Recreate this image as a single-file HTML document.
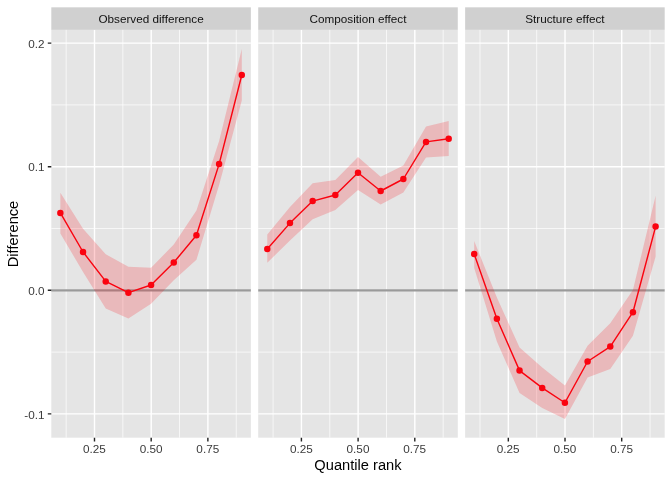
<!DOCTYPE html>
<html><head><meta charset="utf-8"><title>plot</title>
<style>html,body{margin:0;padding:0;background:#fff}svg{display:block;will-change:transform}text{font-family:"Liberation Sans",sans-serif}</style></head><body>
<svg width="672" height="480" viewBox="0 0 672 480">
<rect x="0" y="0" width="672" height="480" fill="#fff"/>
<rect x="51.30" y="7.33" width="199.56" height="22.57" fill="#D0D0D0"/>
<rect x="51.30" y="29.9" width="199.56" height="407.80" fill="#E5E5E5"/>
<path d="M51.30 104.90H250.86M51.30 228.50H250.86M51.30 352.10H250.86M66.16 29.9V437.7M122.85 29.9V437.7M179.55 29.9V437.7M236.24 29.9V437.7" stroke="#fff" stroke-width="0.71" fill="none"/>
<path d="M51.30 43.10H250.86M51.30 166.70H250.86M51.30 290.30H250.86M51.30 413.90H250.86M94.51 29.9V437.7M151.20 29.9V437.7M207.89 29.9V437.7" stroke="#fff" stroke-width="1.42" fill="none"/>
<path d="M51.30 290.3H250.86" stroke="#9A9A9A" stroke-width="2.15" fill="none"/>
<polygon points="60.37,192.75 83.05,228.75 105.73,254.30 128.40,266.70 151.08,267.80 173.76,244.50 196.43,210.60 219.11,141.00 241.79,49.10 241.79,100.60 219.11,185.00 196.43,259.80 173.76,280.30 151.08,303.70 128.40,318.60 105.73,308.40 83.05,272.00 60.37,233.50" fill="#FB0812" fill-opacity="0.2"/>
<polyline points="60.37,212.90 83.05,252.00 105.73,281.40 128.40,292.70 151.08,285.00 173.76,262.50 196.43,235.30 219.11,164.10 241.79,75.00" fill="none" stroke="#FA030F" stroke-width="1.42" stroke-linejoin="round"/>
<circle cx="60.37" cy="212.90" r="3.23" fill="#FA030F"/>
<circle cx="83.05" cy="252.00" r="3.23" fill="#FA030F"/>
<circle cx="105.73" cy="281.40" r="3.23" fill="#FA030F"/>
<circle cx="128.40" cy="292.70" r="3.23" fill="#FA030F"/>
<circle cx="151.08" cy="285.00" r="3.23" fill="#FA030F"/>
<circle cx="173.76" cy="262.50" r="3.23" fill="#FA030F"/>
<circle cx="196.43" cy="235.30" r="3.23" fill="#FA030F"/>
<circle cx="219.11" cy="164.10" r="3.23" fill="#FA030F"/>
<circle cx="241.79" cy="75.00" r="3.23" fill="#FA030F"/>
<text x="151.08" y="23.2" font-size="11.73" fill="#101010" text-anchor="middle">Observed difference</text>
<text x="94.39" y="452.9" font-size="11.73" fill="#3B3B3B" text-anchor="middle">0.25</text>
<text x="151.08" y="452.9" font-size="11.73" fill="#3B3B3B" text-anchor="middle">0.50</text>
<text x="207.77" y="452.9" font-size="11.73" fill="#3B3B3B" text-anchor="middle">0.75</text>
<path d="M94.49 437.7v3.9M151.18 437.7v3.9M207.87 437.7v3.9" stroke="#242424" stroke-width="1.42" fill="none"/>
<rect x="258.22" y="7.33" width="199.56" height="22.57" fill="#D0D0D0"/>
<rect x="258.22" y="29.9" width="199.56" height="407.80" fill="#E5E5E5"/>
<path d="M258.22 104.90H457.78M258.22 228.50H457.78M258.22 352.10H457.78M273.08 29.9V437.7M329.77 29.9V437.7M386.47 29.9V437.7M443.16 29.9V437.7" stroke="#fff" stroke-width="0.71" fill="none"/>
<path d="M258.22 43.10H457.78M258.22 166.70H457.78M258.22 290.30H457.78M258.22 413.90H457.78M301.43 29.9V437.7M358.12 29.9V437.7M414.81 29.9V437.7" stroke="#fff" stroke-width="1.42" fill="none"/>
<path d="M258.22 290.3H457.78" stroke="#9A9A9A" stroke-width="2.15" fill="none"/>
<polygon points="267.29,234.40 289.97,206.90 312.65,183.20 335.32,179.90 358.00,156.90 380.68,176.70 403.35,165.60 426.03,126.60 448.71,121.00 448.71,156.00 426.03,157.50 403.35,192.50 380.68,204.60 358.00,190.00 335.32,209.90 312.65,219.20 289.97,240.50 267.29,262.75" fill="#FB0812" fill-opacity="0.2"/>
<polyline points="267.29,249.00 289.97,223.10 312.65,201.10 335.32,195.00 358.00,172.80 380.68,191.00 403.35,179.00 426.03,141.90 448.71,138.75" fill="none" stroke="#FA030F" stroke-width="1.42" stroke-linejoin="round"/>
<circle cx="267.29" cy="249.00" r="3.23" fill="#FA030F"/>
<circle cx="289.97" cy="223.10" r="3.23" fill="#FA030F"/>
<circle cx="312.65" cy="201.10" r="3.23" fill="#FA030F"/>
<circle cx="335.32" cy="195.00" r="3.23" fill="#FA030F"/>
<circle cx="358.00" cy="172.80" r="3.23" fill="#FA030F"/>
<circle cx="380.68" cy="191.00" r="3.23" fill="#FA030F"/>
<circle cx="403.35" cy="179.00" r="3.23" fill="#FA030F"/>
<circle cx="426.03" cy="141.90" r="3.23" fill="#FA030F"/>
<circle cx="448.71" cy="138.75" r="3.23" fill="#FA030F"/>
<text x="358.00" y="23.2" font-size="11.73" fill="#101010" text-anchor="middle">Composition effect</text>
<text x="301.31" y="452.9" font-size="11.73" fill="#3B3B3B" text-anchor="middle">0.25</text>
<text x="358.00" y="452.9" font-size="11.73" fill="#3B3B3B" text-anchor="middle">0.50</text>
<text x="414.69" y="452.9" font-size="11.73" fill="#3B3B3B" text-anchor="middle">0.75</text>
<path d="M301.41 437.7v3.9M358.10 437.7v3.9M414.79 437.7v3.9" stroke="#242424" stroke-width="1.42" fill="none"/>
<rect x="465.13" y="7.33" width="199.56" height="22.57" fill="#D0D0D0"/>
<rect x="465.13" y="29.9" width="199.56" height="407.80" fill="#E5E5E5"/>
<path d="M465.13 104.90H664.69M465.13 228.50H664.69M465.13 352.10H664.69M479.99 29.9V437.7M536.68 29.9V437.7M593.38 29.9V437.7M650.07 29.9V437.7" stroke="#fff" stroke-width="0.71" fill="none"/>
<path d="M465.13 43.10H664.69M465.13 166.70H664.69M465.13 290.30H664.69M465.13 413.90H664.69M508.34 29.9V437.7M565.03 29.9V437.7M621.72 29.9V437.7" stroke="#fff" stroke-width="1.42" fill="none"/>
<path d="M465.13 290.3H664.69" stroke="#9A9A9A" stroke-width="2.15" fill="none"/>
<polygon points="474.20,241.00 496.88,297.60 519.56,347.50 542.23,367.50 564.91,385.50 587.59,345.70 610.26,323.20 632.94,290.00 655.62,195.80 655.62,256.50 632.94,335.70 610.26,369.00 587.59,377.40 564.91,419.00 542.23,408.10 519.56,393.10 496.88,341.50 474.20,268.10" fill="#FB0812" fill-opacity="0.2"/>
<polyline points="474.20,254.10 496.88,318.75 519.56,370.60 542.23,387.90 564.91,402.75 587.59,361.50 610.26,346.60 632.94,312.20 655.62,226.60" fill="none" stroke="#FA030F" stroke-width="1.42" stroke-linejoin="round"/>
<circle cx="474.20" cy="254.10" r="3.23" fill="#FA030F"/>
<circle cx="496.88" cy="318.75" r="3.23" fill="#FA030F"/>
<circle cx="519.56" cy="370.60" r="3.23" fill="#FA030F"/>
<circle cx="542.23" cy="387.90" r="3.23" fill="#FA030F"/>
<circle cx="564.91" cy="402.75" r="3.23" fill="#FA030F"/>
<circle cx="587.59" cy="361.50" r="3.23" fill="#FA030F"/>
<circle cx="610.26" cy="346.60" r="3.23" fill="#FA030F"/>
<circle cx="632.94" cy="312.20" r="3.23" fill="#FA030F"/>
<circle cx="655.62" cy="226.60" r="3.23" fill="#FA030F"/>
<text x="564.91" y="23.2" font-size="11.73" fill="#101010" text-anchor="middle">Structure effect</text>
<text x="508.22" y="452.9" font-size="11.73" fill="#3B3B3B" text-anchor="middle">0.25</text>
<text x="564.91" y="452.9" font-size="11.73" fill="#3B3B3B" text-anchor="middle">0.50</text>
<text x="621.60" y="452.9" font-size="11.73" fill="#3B3B3B" text-anchor="middle">0.75</text>
<path d="M508.32 437.7v3.9M565.01 437.7v3.9M621.70 437.7v3.9" stroke="#242424" stroke-width="1.42" fill="none"/>
<text x="44.5" y="48.00" font-size="11.73" fill="#3B3B3B" text-anchor="end">0.2</text>
<text x="44.5" y="171.00" font-size="11.73" fill="#3B3B3B" text-anchor="end">0.1</text>
<text x="44.5" y="294.50" font-size="11.73" fill="#3B3B3B" text-anchor="end">0.0</text>
<text x="44.5" y="419.00" font-size="11.73" fill="#3B3B3B" text-anchor="end">-0.1</text>
<path d="M47.80 43.10h3.5M47.80 166.70h3.5M47.80 290.30h3.5M47.80 413.90h3.5" stroke="#242424" stroke-width="1.42" fill="none"/>
<text x="357.96" y="469.5" font-size="14.67" fill="#000" text-anchor="middle">Quantile rank</text>
<text transform="translate(17.95,234.0) rotate(-90)" font-size="14.67" fill="#000" text-anchor="middle">Difference</text>
</svg></body></html>
